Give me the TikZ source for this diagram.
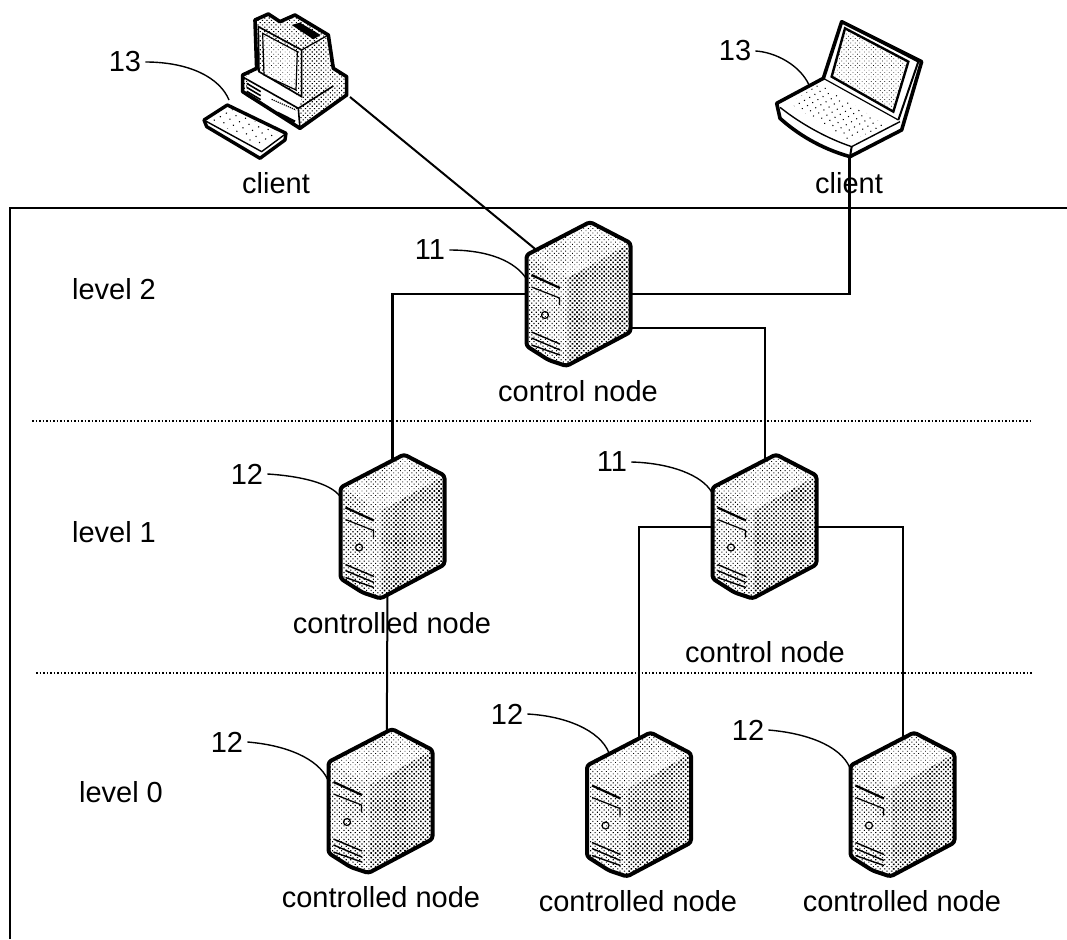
\documentclass[tikz,border=0pt]{standalone}
\usepackage{fontspec}
\setmainfont{Liberation Sans}
\usetikzlibrary{patterns.meta}

\tikzset{
	txt/.style={inner sep=4pt,font=\fontsize{29}{32}\selectfont},
	srv/.style={minimum width=105pt,minimum height=144pt,inner sep=0pt},
	wire/.style={line width=2pt},
	lead/.style={line width=1.4pt},
	screendots/.style={pattern={Dots[angle=45,distance=3.2pt,radius=.5pt]}},
	lightdots/.style={pattern={Dots[angle=45,distance=3.2pt,radius=.62pt]}},
	frontdots/.style={pattern={Dots[angle=45,distance=3.2pt,radius=.8pt]}},
	darkdots/.style={pattern={Dots[angle=45,distance=3.2pt,radius=1.12pt]}},
	serverbox/.pic={
		\fill[white] (-52,-39) -- (11.5,-72) -- (52,-51) -- (52,38) -- (-12,72) -- (-30,66) -- (-52,52) -- cycle;
		\fill[frontdots] (-52,-39) -- (-11,-16) -- (-11,72) -- (-52,52) -- cycle;
		\fill[lightdots] (-52,-39) -- (11.5,-72) -- (52,-51) -- (-11,-16) -- cycle;
		\fill[darkdots] (-11,-16) -- (52,-51) -- (52,38) -- (-11,72) -- cycle;
		\draw[line width=4pt,line join=round,rounded corners=3pt] (-52,-39) -- (11.5,-72) -- (52,-51) -- (52,38) -- (-12,72) -- (-30,66) -- (-52,52) -- cycle;
		\draw[line width=2.2pt] (-47,-19) -- (-18.5,-6);
		\draw[line width=1.2pt] (-47,-7) -- (-19,4) -- (-19,11);
		\draw[line width=1.2pt] (-33.5,21) circle (3.5);
		\draw[line width=1.4pt] (-47,38) -- (-18.5,50);
		\draw[line width=1.4pt] (-47,44) -- (-18.5,56);
		\draw[line width=1.4pt] (-47,51) -- (-18.5,61);
	}
}

\begin{document}
\begin{tikzpicture}[x=1pt,y=-1pt]
	\useasboundingbox (0,0) rectangle (1067,939);

	\draw[line width=2pt] (10,939) -- (10,208) -- (1067,208);
	\draw[line width=1.5pt,dotted] (32,421) -- (1030,421);
	\draw[line width=1.5pt,dotted] (36,673) -- (1032,673);

	\node[srv] (main) at (578.5,294) {};
	\node[srv] (ctlb) at (392.5,526.5) {};
	\node[srv] (ctlc) at (764.5,526.5) {};
	\node[srv] (leafa) at (380.5,801) {};
	\node[srv] (leafb) at (639,804.5) {};
	\node[srv] (leafc) at (902.5,804.5) {};
	\node[minimum width=143pt,minimum height=145pt,inner sep=0pt] (desk) at (275.5,85.5) {};
	\node[minimum width=146pt,minimum height=157pt,inner sep=0pt] (laptop) at (849.5,78.5) {};
	\coordinate (deskjack) at (350,97);
	\coordinate (deskkeys) at (229,100);
	\coordinate (lapkeys) at (809,85);
	\coordinate (leafbtop) at (609,753);

	\draw[wire,shorten >=-15pt] (deskjack) -- (main.135);
	\draw[line width=2.6pt] (main.east) -| (laptop.south);
	\draw[line width=2.6pt,shorten >=-12pt] (main.west) -| (ctlb.north);
	\draw[wire,shorten >=-12pt] (main.-33) -| (ctlc.north);
	\draw[wire,shorten >=-12pt] (ctlc.west) -| (leafb.north);
	\draw[wire,shorten >=-12pt] (ctlc.east) -| (leafc.north);
	\draw[wire,shorten >=-12pt,shorten <=-12pt] (ctlb.-94) -- (leafa.85);

	\pic at (main) {serverbox};
	\pic at (ctlb) {serverbox};
	\pic at (ctlc) {serverbox};
	\pic at (leafa) {serverbox};
	\pic at (leafb) {serverbox};
	\pic at (leafc) {serverbox};

	% desktop
	\begin{scope}[shift={(190,0)},x=.3333pt,y=-.3333pt]
		\fill[white] (195,60) -- (235,42) -- (270,65) -- (315,45) -- (415,105) -- (430,205) -- (470,230) -- (470,285) -- (330,385) -- (158,275) -- (158,225) -- (200,205) -- cycle;
		\fill[frontdots] (195,60) -- (235,42) -- (270,65) -- (315,45) -- (415,105) -- (430,205) -- (470,230) -- (470,285) -- (330,385) -- (158,275) -- (158,225) -- (200,205) -- cycle;
		\fill[white] (160,235) -- (200,212) -- (335,295) -- (325,325) -- cycle;
		\fill[white] (180,245) -- (325,330) -- (330,380) -- (165,275) -- cycle;
		\fill[white] (218,100) -- (322,155) -- (318,270) -- (222,225) -- cycle;
		\fill[screendots] (218,100) -- (322,155) -- (318,270) -- (222,225) -- cycle;
		\draw[line width=3.6pt,line join=round] (195,60) -- (235,42) -- (270,65) -- (315,45) -- (415,105) -- (430,205) -- (470,230) -- (470,285) -- (330,385) -- (158,275) -- (158,225) -- (200,205) -- cycle;
		\draw[line width=1.6pt] (205,80) -- (335,150) -- (335,290) -- (207,215) -- cycle;
		\draw[line width=1.2pt] (218,100) -- (322,155) -- (318,270) -- (222,225) -- cycle;
		\draw[line width=1.2pt] (335,150) -- (415,105);
		\fill (305,75) -- (330,68) -- (392,105) -- (370,118) -- cycle;
		\draw[line width=1.6pt] (160,232) -- (325,325) -- (430,258);
		\draw[line width=1.6pt] (325,325) -- (330,385);
		\draw[line width=1.6pt] (170,250) -- (212,275);
		\draw[line width=1.6pt] (170,262) -- (212,287);
		\draw[line width=1.6pt] (170,274) -- (212,299);
		\draw[line width=1.6pt] (170,286) -- (212,311);
		\draw[line width=1.2pt,densely dotted] (245,298) -- (318,330);
		\draw[line width=2.4pt] (262,338) -- (315,365);
		\filldraw[fill=white,line width=3.4pt,line join=round] (42,360) -- (112,315) -- (288,400) -- (285,420) -- (210,475) -- (50,380) -- cycle;
		\draw[line width=1.4pt] (45,362) -- (215,455) -- (285,403);
		\fill[pattern={Dots[angle=30,distance=7pt,radius=.8pt]}] (60,355) -- (115,322) -- (270,402) -- (215,445) -- cycle;
	\end{scope}

	% laptop
	\begin{scope}[shift={(770,20)},x=.3333pt,y=-.3333pt]
		\fill[white] (20,250) -- (160,175) -- (215,5) -- (455,125) -- (395,330) -- (240,410) -- (130,370) -- (30,295) -- cycle;
		\fill[screendots] (225,25) -- (415,125) -- (370,275) -- (185,170) -- cycle;
		\draw[line width=3.6pt,line join=round] (20,250) -- (160,175) -- (215,5) -- (455,125) -- (395,330) -- (240,410) .. controls (150,385) and (80,340) .. (30,295) -- cycle;
		\draw[line width=2.4pt] (225,25) -- (415,125) -- (370,275) -- (185,170) -- cycle;
		\draw[line width=2pt] (215,5) -- (445,125) -- (385,300);
		\draw[line width=1.2pt] (160,175) -- (385,300);
		\draw[line width=1.4pt] (30,262) .. controls (90,310) and (170,355) .. (245,380) -- (390,305);
		\draw[line width=2pt] (245,380) -- (240,410);
		\fill[pattern={Dots[angle=30,distance=6pt,radius=.75pt]}] (60,250) -- (150,190) -- (345,315) -- (240,365) -- cycle;
	\end{scope}

	\node[txt] (tdesk) at (276,183) {client};
	\node[txt] (tlaptop) at (849,183) {client};
	\node[txt] (tmain) at (578,391) {control node};
	\node[txt] (tctlb) at (392,623) {controlled node};
	\node[txt] (tctlc) at (765,652) {control node};
	\node[txt] (tleafa) at (381,897) {controlled node};
	\node[txt] (tleafb) at (638,901) {controlled node};
	\node[txt] (tleafc) at (902,901) {controlled node};
	\node[txt] (lvlb) at (114,289) {level 2};
	\node[txt] (lvla) at (114,532) {level 1};
	\node[txt] (lvlz) at (121,792) {level 0};

	\node[txt] (ndesk) at (125,62) {13};
	\node[txt] (nlaptop) at (735,51) {13};
	\node[txt] (nmain) at (430,250) {11};
	\node[txt] (nctlc) at (612,462) {11};
	\node[txt] (nctlb) at (247,474) {12};
	\node[txt] (nleafa) at (227,742) {12};
	\node[txt] (nleafb) at (507,714) {12};
	\node[txt] (nleafc) at (748,730) {12};

	\draw[lead] (ndesk.east) .. controls (190,62) and (220,78) .. (deskkeys);
	\draw[lead] (nlaptop.east) .. controls (775,52) and (800,65) .. (lapkeys);
	\draw[lead] (nmain.east) .. controls (490,250) and (515,262) .. (main.163);
	\draw[lead] (nctlc.east) .. controls (670,463) and (702,475) .. (ctlc.147);
	\draw[lead] (nctlb.east) .. controls (300,476) and (330,483) .. (ctlb.150);
	\draw[lead] (nleafa.east) .. controls (285,745) and (318,758) .. (leafa.158);
	\draw[lead] (nleafb.east) .. controls (565,716) and (600,730) .. (leafbtop);
	\draw[lead] (nleafc.east) .. controls (805,733) and (840,745) .. (leafc.145);
\end{tikzpicture}
\end{document}
